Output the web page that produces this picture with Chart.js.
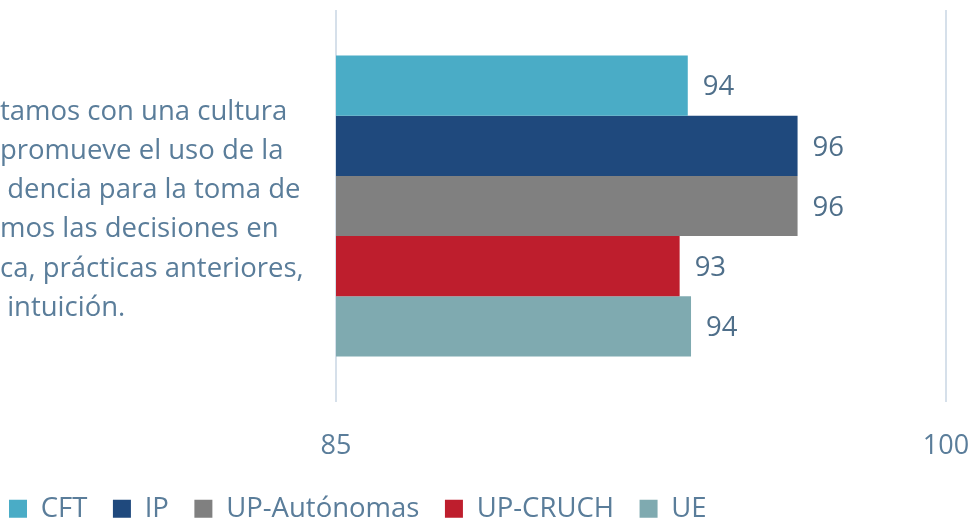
<!DOCTYPE html>
<html><head><meta charset="utf-8">
<script src="https://cdn.jsdelivr.net/npm/chart.js@4/dist/chart.umd.min.js"></script>
<style>html,body{margin:0;padding:0;background:#fff;}#wrap{width:973px;height:519px;}</style>
</head><body><div id="wrap"><canvas id="c" width="973" height="519"></canvas></div>
<script>
const categories = [["tamos con una cultura","promueve el uso de la"," dencia para la toma de","mos las decisiones en","ca, prácticas anteriores,"," intuición."]];
const seriesNames = ["CFT","IP","UP-Autónomas","UP-CRUCH","UE"];
const seriesColors = ["#4aacc6","#1f497d","#808080","#be1e2d","#7faab0"];
const seriesValues = [[93.65],[96.35],[96.35],[93.45],[93.73]];
const xMin = 85, xMax = 100, xStep = 15;

const textColor = "#5a7d9a";
const fontFam = "'Open Sans', 'Noto Sans', sans-serif";

const valueLabels = {
  id:'valueLabels',
  afterDatasetsDraw(chart){
    const ctx = chart.ctx;
    ctx.save();
    ctx.font = "27.5px " + fontFam;
    ctx.fillStyle = "#4f6f8a";
    ctx.textAlign = "left";
    ctx.textBaseline = "middle";
    chart.data.datasets.forEach((ds,i)=>{
      chart.getDatasetMeta(i).data.forEach((el,j)=>{
        ctx.fillText(String(Math.round(ds.data[j])), el.x + 15, el.y + 2);
      });
    });
    ctx.restore();
  }
};

new Chart(document.getElementById('c'), {
  type:'bar',
  data:{
    labels: categories,
    datasets: seriesNames.map((n,i)=>({label:n, data:seriesValues[i], backgroundColor:seriesColors[i], borderWidth:0, categoryPercentage:0.768, barPercentage:1}))
  },
  options:{
    indexAxis:'y',
    responsive:false,
    animation:false,
    layout:{padding:{left:0,right:27,top:10,bottom:-13.5}},
    plugins:{
      legend:{position:'bottom', align:'start',
        labels:{color:textColor, font:{family:fontFam,size:27.5,lineHeight:1}, boxWidth:18, boxHeight:18, padding:9,
          generateLabels(chart){
            const items = Chart.defaults.plugins.legend.labels.generateLabels(chart);
            items.forEach(it=>{ it.text = it.text + "\u2002\u200A"; });
            return items;
          }}},
      tooltip:{enabled:false}
    },
    scales:{
      x:{min:xMin,max:xMax,
        ticks:{stepSize:xStep,color:textColor,font:{family:fontFam,size:27},padding:28},
        grid:{color:"#d6e0ea",lineWidth:2,drawTicks:false},
        border:{display:false},
        afterFit(a){ a.height = 84; a.paddingLeft = 0; a.paddingRight = 0; }
      },
      y:{
        ticks:{color:textColor,font:{family:fontFam,size:27.5,lineHeight:1.43},crossAlign:'far',padding:0,labelOffset:4},
        grid:{display:false},
        border:{display:false},
        afterFit(a){ a.width = 336; a.paddingTop = 0; a.paddingBottom = 0; }
      }
    }
  },
  plugins:[valueLabels]
});
</script></body></html>
